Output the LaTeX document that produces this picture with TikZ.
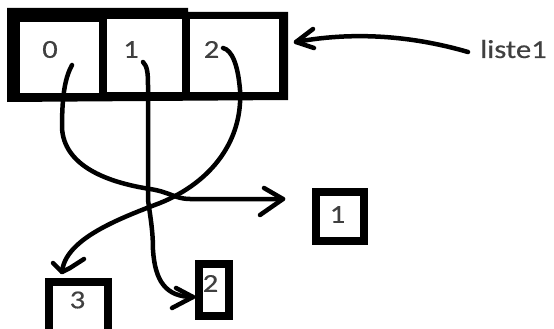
\documentclass[tikz,border=0pt]{standalone}
\usepackage{fontspec}
\newfontfamily\handfont{Carlito}[FakeStretch=1.18,Numbers=Lining,FakeBold=0.4]
\begin{document}
\begin{tikzpicture}[x=1pt,y=-1pt,
  cell/.style={fill=white,inner sep=0pt,outer sep=0pt},
  valbox/.style={draw=black,fill=white,line width=8pt,inner sep=0pt},
  lbl/.style={inner sep=0pt,text=black!75,font=\handfont\fontsize{26}{30}\selectfont},
  pen/.style={line width=4.5pt,line cap=round,line join=round}]
\clip (0,0) rectangle (554,329);
\fill[white] (0,0) rectangle (554,329);
% array frame
\fill[black] (7,8) -- (188,8) -- (188,12) -- (288,12) -- (288,100) -- (7,102) -- cycle;
\node[cell,minimum width=79pt,minimum height=71pt] (c0) at (59.5,57.5) {};
\node[cell,minimum width=75pt,minimum height=73pt] (c1) at (144.5,55.5) {};
\node[cell,minimum width=89pt,minimum height=73pt] (c2) at (234.5,55.5) {};
\node[lbl] (t0) at (50,49.5) {0};
\node[lbl] (t1) at (131,49.5) {1};
\node[lbl] (t2) at (211.5,49.5) {2};
% value boxes
\node[valbox,minimum width=48pt,minimum height=49pt] (b1) at (340,216.5) {};
\node[valbox,minimum width=30pt,minimum height=52pt] (b2) at (214,290) {};
\node[valbox,minimum width=59pt,minimum height=53pt] (b3) at (78.5,308.5) {};
\node[lbl] (v1) at (337.5,214.5) {1};
\node[lbl] (v2) at (210.5,283.5) {2};
\node[lbl] (v3) at (77.5,300) {3};
% list name
\node[lbl,anchor=base] (name) at (513.5,58) {liste1};
% connector coordinates
\coordinate (s0) at (72,65);
\coordinate (s1) at (143,62);
\coordinate (s2) at (223,48);
\coordinate (s4) at (468,52);
\coordinate (e1) at (283,199);
\coordinate (e2) at (193,297);
\coordinate (e3) at (62,272);
\coordinate (e4) at (296,42);
% arrows
\draw[pen] (s0) .. controls (65,78) and (62,95) .. (62,128)
  .. controls (64,165) and (105,182) .. (150,189)
  .. controls (170,192) and (175,199) .. (190,199) -- (e1);
\draw[pen] (264,188) -- (e1) -- (260,215);
\draw[pen] (s1) .. controls (147,66) and (148,72) .. (148,85) -- (148,200)
  .. controls (150,215) and (153,230) .. (153,250)
  .. controls (155,280) and (165,297) .. (e2);
\draw[pen] (176,288) -- (e2) -- (172,308);
\draw[pen] (s2) .. controls (232,50) and (238,65) .. (240,90)
  .. controls (243,140) and (212,182) .. (160,203)
  .. controls (115,220) and (65,240) .. (e3);
\draw[pen] (53,263) -- (e3) -- (70,268) -- (84,259);
\draw[pen] (s4) .. controls (420,38) and (360,30) .. (e4);
\draw[pen] (313,29) -- (e4) -- (314,48);
\end{tikzpicture}
\end{document}
